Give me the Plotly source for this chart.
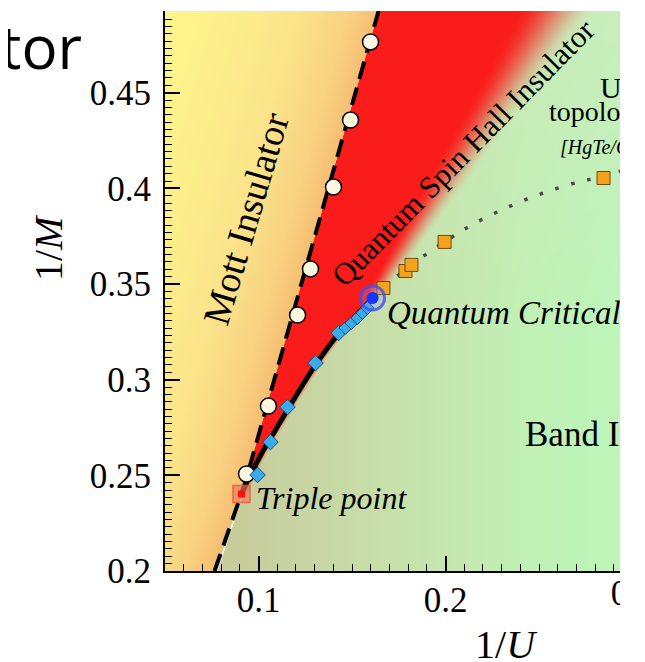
import base64, struct, zlib
import numpy as np
import plotly.graph_objects as go

# ---------------- data ----------------
# Mott transition points (open circles)
mott_x = [0.1599, 0.1492, 0.1401, 0.1278, 0.1209, 0.1053, 0.0936]
mott_y = [0.4765, 0.4357, 0.4007, 0.3579, 0.3338, 0.2862, 0.2507]
# dashed Mott boundary
mott_line_x = [0.0765, 0.0925, 0.1642]
mott_line_y = [0.2000, 0.2450, 0.4927]
# QSH / band transition points (diamonds)
qsh_x = [0.0995, 0.1064, 0.1155, 0.1305, 0.1428]
qsh_y = [0.2502, 0.2674, 0.2857, 0.3087, 0.3244]
qsh_near_x = [0.1465, 0.1497, 0.1529, 0.1556, 0.1583]
qsh_near_y = [0.3270, 0.3296, 0.3322, 0.3349, 0.3375]
# solid QSH / band boundary
qsh_line_x = [0.0909, 0.0957, 0.1021, 0.1091, 0.1171, 0.1305, 0.1428, 0.1519, 0.1610]
qsh_line_y = [0.2402, 0.2502, 0.2622, 0.2737, 0.2868, 0.3077, 0.3239, 0.3333, 0.3427]
# crossover points (orange squares) and dotted crossover line
band_x = [0.1668, 0.1786, 0.1818, 0.1995, 0.2845]
band_y = [0.3479, 0.3568, 0.3600, 0.3720, 0.4054]
cross_line_x = [0.1610, 0.1668, 0.1818, 0.1995, 0.2150, 0.2337, 0.2524, 0.2711, 0.2845, 0.2933]
cross_line_y = [0.3427, 0.3479, 0.3600, 0.3720, 0.3814, 0.3903, 0.3976, 0.4033, 0.4062, 0.4090]
# special points
triple_x, triple_y = [0.0909], [0.2402]
qcp_x, qcp_y = [0.1610], [0.3427]
# fading edge of the QSH region above the critical point
red_edge_x = [0.1610, 0.2594]
red_edge_y = [0.3427, 0.4927]

x_ticks = [0.1, 0.2]
y_ticks = [0.2, 0.25, 0.3, 0.35, 0.4, 0.45]
y_ticktext = ["0.2", "0.25", "0.3", "0.35", "0.4", "0.45"]

XR = [0.05, 0.2933]
YR = [0.2, 0.4927]

SERIF = "Liberation Serif"

# ---------------- background shading (style only) ----------------
W, H = 455, 560
SX = W / (XR[1] - XR[0])
SY = H / (YR[1] - YR[0])
ii = np.arange(W) + 0.5
jj = np.arange(H) + 0.5
XC = XR[0] + ii[None, :] / SX + 0 * jj[:, None]
YC = YR[1] - jj[:, None] / SY + 0 * ii[None, :]
PX = 165 + ii[None, :] + 0 * jj[:, None]
PY = 11 + jj[:, None] + 0 * ii[None, :]


def smooth(t):
    t = np.clip(t, 0, 1)
    return t * t * (3 - 2 * t)


def interp_rgb(v, stops, cols):
    cols = np.array(cols, dtype=float)
    return np.stack([np.interp(v, stops, cols[:, k]) for k in range(3)], axis=-1)


xm = np.interp(YC, mott_line_y, mott_line_x)
d = (XC - xm) * SX  # px, negative = Mott side

mott_col = interp_rgb(-d, [0, 30, 80, 150, 230],
                      [(246, 190, 115), (249, 210, 130), (251, 228, 138), (253, 240, 140), (254, 246, 142)])
green = interp_rgb(PX, [165, 260, 400, 520, 620],
                   [(200, 198, 150), (201, 207, 158), (199, 226, 172), (193, 240, 180), (189, 246, 186)])
wtop = np.clip((330 - PY) / 330, 0, 1) * 0.45
green = green * (1 - wtop[..., None]) + np.array([214, 228, 190]) * wtop[..., None]

# red QSH region
alpha = np.zeros((H, W))
low = (YC >= triple_y[0]) & (YC <= qcp_y[0])
xb = np.interp(YC, qsh_line_y, qsh_line_x)
dl = (XC - xb) * SX - 2
alpha = np.where(low, 1 - smooth((dl + 5) / 10), alpha)
up = YC > qcp_y[0]
xmid = np.interp(YC, red_edge_y, red_edge_x)
fr = (YC - red_edge_y[0]) / (red_edge_y[1] - red_edge_y[0])
w = 10 + 30 * fr
du = (XC - xmid) * SX
alpha = np.where(up, 1 - smooth((du + w) / (2 * w)), alpha)
alpha = alpha * np.clip(d + 0.5, 0, 1)
red = np.array([250, 28, 26], dtype=float)
right_col = green * (1 - alpha[..., None]) + red * alpha[..., None]
img = np.where((d < 0)[..., None], mott_col, right_col)
img = np.clip(img, 0, 255).astype(np.uint8)


def png_uri(rgb):
    h, w_, _ = rgb.shape
    raw = b"".join(b"\x00" + rgb[r].tobytes() for r in range(h))

    def chunk(t, data):
        return struct.pack(">I", len(data)) + t + data + struct.pack(">I", zlib.crc32(t + data) & 0xffffffff)

    png = (b"\x89PNG\r\n\x1a\n" + chunk(b"IHDR", struct.pack(">IIBBBBB", w_, h, 8, 2, 0, 0, 0))
           + chunk(b"IDAT", zlib.compress(raw, 9)) + chunk(b"IEND", b""))
    return "data:image/png;base64," + base64.b64encode(png).decode()


# ---------------- figure ----------------
fig = go.Figure()

# thin light edge between Mott and band regions below the triple point
fig.add_trace(go.Scatter(x=[mott_line_x[0] + 0.0012, triple_x[0] + 0.0006], y=[mott_line_y[0], triple_y[0]],
                         mode="lines", line=dict(color="rgba(255,255,255,0.9)", width=1.5),
                         hoverinfo="skip", showlegend=False))
fig.add_trace(go.Scatter(x=mott_line_x, y=mott_line_y, mode="lines",
                         line=dict(color="black", width=4, dash="18px,9px"),
                         hoverinfo="skip", showlegend=False))
fig.add_trace(go.Scatter(x=cross_line_x, y=cross_line_y, mode="lines",
                         line=dict(color="#484848", width=3.5, dash="3.5px,13px", shape="spline"),
                         hoverinfo="skip", showlegend=False))
fig.add_trace(go.Scatter(x=qsh_line_x, y=qsh_line_y, mode="lines",
                         line=dict(color="black", width=5, shape="spline"),
                         hoverinfo="skip", showlegend=False))
fig.add_trace(go.Scatter(x=mott_x, y=mott_y, mode="markers",
                         marker=dict(symbol="circle", size=16, color="#FBF9E2",
                                     line=dict(color="black", width=1.5)), showlegend=False))
fig.add_trace(go.Scatter(x=qsh_x, y=qsh_y, mode="markers",
                         marker=dict(symbol="diamond", size=12, color="#3AAAE8",
                                     line=dict(color="#1B4F78", width=1)), showlegend=False))
fig.add_trace(go.Scatter(x=qsh_near_x, y=qsh_near_y, mode="markers",
                         marker=dict(symbol="diamond", size=10, color="#3AAAE8",
                                     line=dict(color="#1B4F78", width=1)), showlegend=False))
fig.add_trace(go.Scatter(x=band_x, y=band_y, mode="markers",
                         marker=dict(symbol="square", size=13, color="#F5A21E",
                                     line=dict(color="#6B4A10", width=1)), showlegend=False))
fig.add_trace(go.Scatter(x=triple_x, y=triple_y, mode="markers",
                         marker=dict(symbol="square", size=17, color="rgba(240,120,90,0.65)",
                                     line=dict(color="rgba(232,90,60,0.85)", width=1.5)), showlegend=False))
fig.add_trace(go.Scatter(x=triple_x, y=triple_y, mode="markers",
                         marker=dict(symbol="square", size=7, color="#FF1010"), showlegend=False))
fig.add_trace(go.Scatter(x=qcp_x, y=qcp_y, mode="markers",
                         marker=dict(symbol="circle", size=24, color="rgba(130,150,255,0.25)",
                                     line=dict(color="rgba(60,80,240,0.8)", width=3)), showlegend=False))
fig.add_trace(go.Scatter(x=qcp_x, y=qcp_y, mode="markers",
                         marker=dict(symbol="circle", size=12, color="#1733FF"), showlegend=False))

# labels inside the plot (clipped at the plot edge)
labels = [
    ("<i>Quantum Critical Point</i>", 0.1687, 0.3333, 33),
    ("<i>Triple point</i>", 0.0987, 0.2366, 32),
    ("Band Insulator", 0.2425, 0.2700, 35),
    ("Usual", 0.2826, 0.4509, 30),
    ("topological insulator", 0.2553, 0.4389, 28),
    ("<i>[HgTe/CdTe]</i>", 0.2612, 0.4206, 20),
]
for txt, lx, ly, fs in labels:
    fig.add_trace(go.Scatter(x=[lx], y=[ly], mode="text", text=[txt], textposition="middle right",
                             textfont=dict(family=SERIF, size=fs, color="black"),
                             cliponaxis=True, hoverinfo="skip", showlegend=False))

# clipped tick label at the right edge
fig.add_trace(go.Scatter(x=[0.3], y=[0.5], mode="text", text=["0.3"], textposition="middle center",
                         textfont=dict(family=SERIF, size=35, color="black"),
                         cliponaxis=True, xaxis="x2", yaxis="y2", hoverinfo="skip", showlegend=False))

# page has an 8px body margin: layout px = screen px - 8
L, T, R, B = 157, 3, 33, 48
PW, PH = 645 - L - R, 662 - T - B
ydom0 = (662 - B - 563) / PH


def pp(sx, sy):
    """screen pixel -> paper coordinate"""
    return (sx - 8 - L) / PW, (662 - B - (sy - 8)) / PH


annotations = []
ax, ay = pp(506, 644)
annotations.append(dict(text="1/<i>U</i>", x=ax, y=ay, xref="paper", yref="paper", showarrow=False,
                        font=dict(family=SERIF, size=40, color="black"), xanchor="center", yanchor="middle"))
ax, ay = pp(48, 248)
annotations.append(dict(text="1/<i>M</i>", x=ax, y=ay, xref="paper", yref="paper", showarrow=False,
                        textangle=-90, font=dict(family=SERIF, size=40, color="black"),
                        xanchor="center", yanchor="middle"))
ax, ay = pp(-2, 46)
annotations.append(dict(text="tor", x=ax, y=ay, xref="paper", yref="paper", showarrow=False,
                        font=dict(family="Open Sans", size=60, color="black"), xanchor="left", yanchor="middle"))
annotations.append(dict(text="Mott Insulator", x=0.0933, y=0.3845, xref="x", yref="y", showarrow=False,
                        textangle=-73.5, font=dict(family=SERIF, size=38, color="black")))
annotations.append(dict(text="Quantum Spin Hall Insulator", x=0.2094, y=0.4190, xref="x", yref="y",
                        showarrow=False, textangle=-45.5, font=dict(family=SERIF, size=31, color="black")))

fig.update_layout(
    width=645, height=662,
    margin=dict(l=L, r=R, t=T, b=B),
    paper_bgcolor="white", plot_bgcolor="white",
    showlegend=False,
    annotations=annotations,
    images=[dict(source=png_uri(img), xref="x", yref="y", x=XR[0], y=YR[1],
                 sizex=XR[1] - XR[0], sizey=YR[1] - YR[0], sizing="stretch",
                 xanchor="left", yanchor="top", layer="below")],
    xaxis=dict(range=XR, domain=[0, 1], anchor="y", tickvals=x_ticks, ticktext=["0.1", "0.2"],
               ticks="inside", ticklen=15, tickwidth=1.5, tickcolor="black",
               minor=dict(dtick=0.01, tick0=0.0, ticks="inside", ticklen=7, tickwidth=1, tickcolor="black"),
               showline=True, linewidth=2, linecolor="black", mirror=False,
               showgrid=False, zeroline=False, ticklabelstandoff=-3,
               tickfont=dict(family=SERIF, size=35, color="black")),
    yaxis=dict(range=YR, domain=[ydom0, 1], anchor="x", tickvals=y_ticks, ticktext=y_ticktext,
               ticks="inside", ticklen=15, tickwidth=1.5, tickcolor="black",
               minor=dict(dtick=0.05 / 13, tick0=0.2, ticks="inside", ticklen=7, tickwidth=1, tickcolor="black"),
               showline=True, linewidth=2, linecolor="black", mirror=False,
               showgrid=False, zeroline=False, ticklabelstandoff=5,
               tickfont=dict(family=SERIF, size=35, color="black")),
    xaxis2=dict(range=XR, domain=[0, 1], anchor="y2", visible=False),
    yaxis2=dict(range=[0, 1], domain=[0, ydom0], anchor="x2", visible=False),
)

fig.write_html("out.html")
